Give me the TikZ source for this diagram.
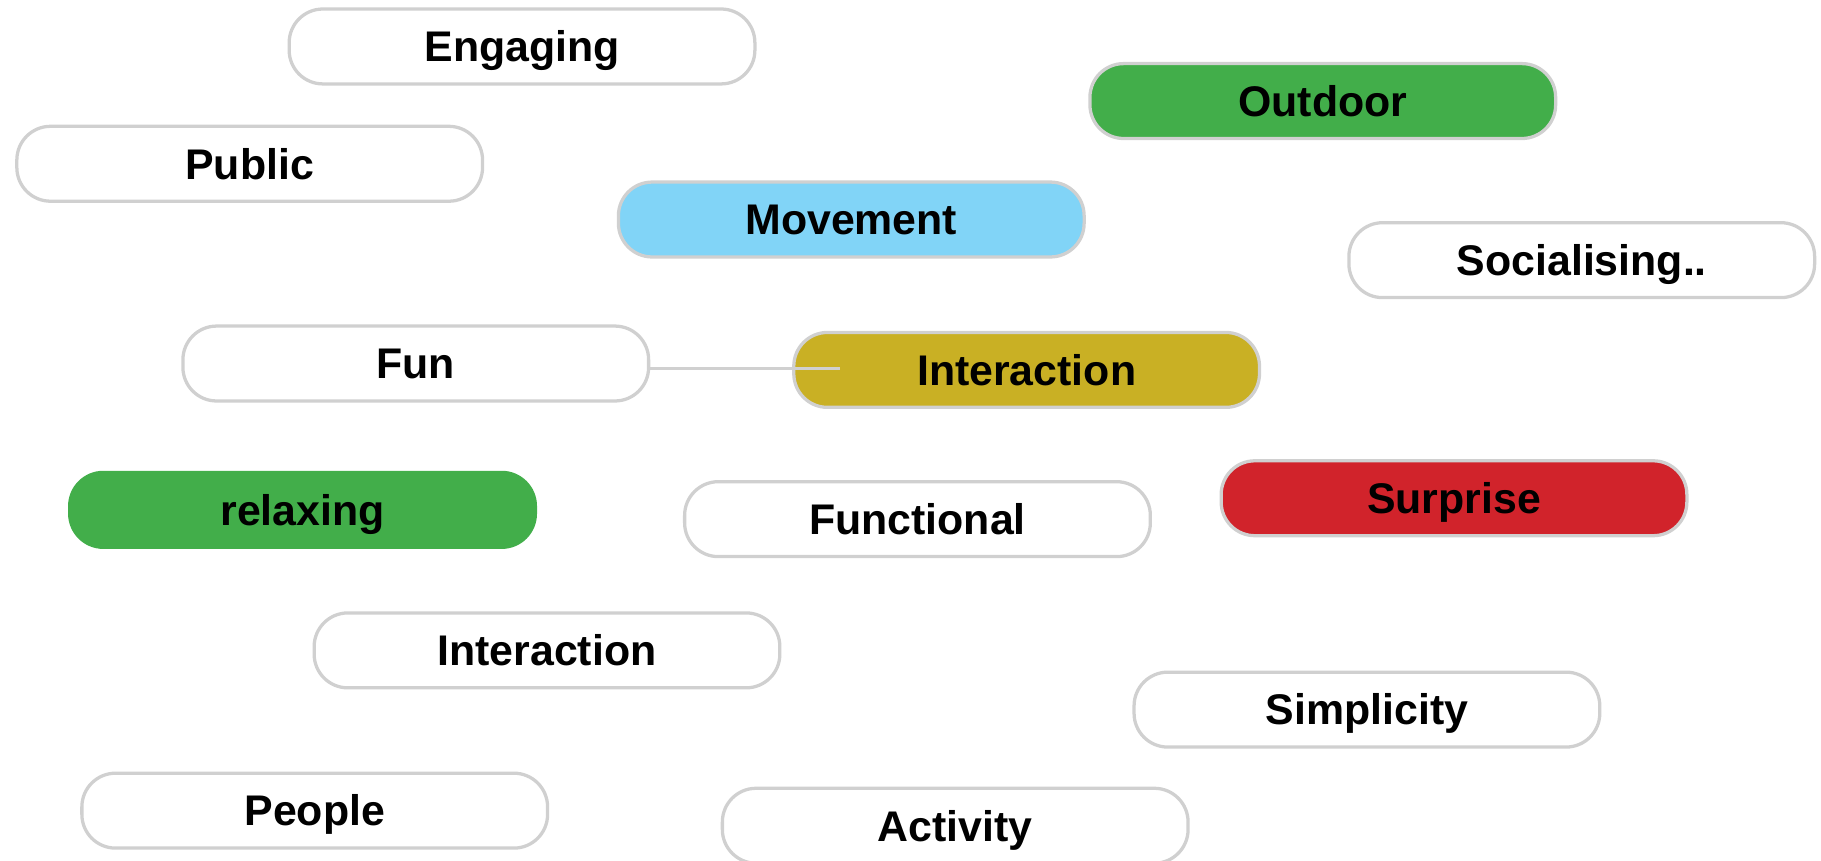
\documentclass[tikz,border=0pt]{standalone}
\usepackage{fontspec}
\setmainfont{Liberation Sans}
\usepackage{tikz}
\usetikzlibrary{calc}
\definecolor{tagborder}{HTML}{D0D0D0}
\definecolor{taggreen}{HTML}{42AE4A}
\definecolor{tagblue}{HTML}{81D4F7}
\definecolor{tagyellow}{HTML}{C9B024}
\definecolor{tagred}{HTML}{D1232B}

\begin{document}
\begin{tikzpicture}[
  tag/.style={draw=tagborder, line width=.8pt, fill=white, rounded corners=.29cm,
    minimum width=4.01cm, minimum height=.645cm, inner sep=0pt,
    text height=7.5pt, text depth=0pt,
    font=\fontsize{10.5}{12}\selectfont\bfseries},
  link/.style={draw=tagborder, line width=.8pt}]
\useasboundingbox (0,0) rectangle (15.68,-7.41);
\node[tag] (engaging) at (4.495,-.40) {Engaging};
\node[tag] (public) at (2.15,-1.41) {Public};
\node[tag, fill=taggreen] (outdoor) at (11.39,-.87) {Outdoor};
\node[tag, fill=tagblue] (movement) at (7.33,-1.89) {Movement};
\node[tag] (social) at (13.62,-2.24) {Socialising..};
\node[tag] (fun) at (3.58,-3.13) {Fun};
\node[tag, fill=tagyellow] (inter) at (8.84,-3.185) {Interaction};
\node[tag, fill=taggreen, draw=taggreen] (relax) at (2.605,-4.39) {relaxing};
\node[tag] (functional) at (7.90,-4.47) {Functional};
\node[tag, fill=tagred] (surprise) at (12.52,-4.29) {Surprise};
\node[tag] (inter2) at (4.71,-5.60) {Interaction};
\node[tag] (simple) at (11.77,-6.11) {Simplicity};
\node[tag] (people) at (2.71,-6.98) {People};
\node[tag] (activity) at (8.225,-7.11) {Activity};
\coordinate (tip) at ($(inter.west)+(.41,.015)$);
\draw[link] (fun.east |- tip) -- (tip);
\end{tikzpicture}
\end{document}
